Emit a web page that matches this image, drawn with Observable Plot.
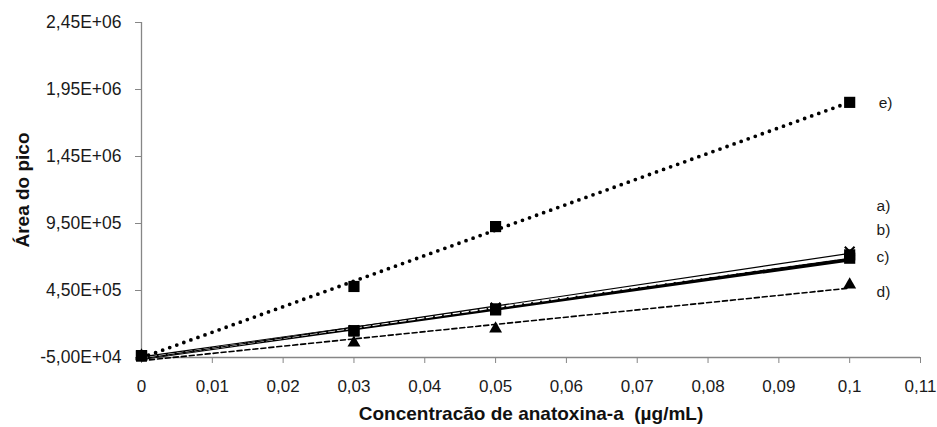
<!DOCTYPE html>
<html>
<head>
<meta charset="utf-8">
<script src="https://cdn.jsdelivr.net/npm/d3@7"></script>
<script src="https://cdn.jsdelivr.net/npm/@observablehq/plot@0.6"></script>
<style>
  html, body { margin: 0; padding: 0; background: #fff; }
  #chart { width: 937px; height: 427px; }
</style>
</head>
<body>
<div id="chart"></div>
<script>
// Concentration levels (µg/mL)
const conc = [0, 0.03, 0.05, 0.1];

// Peak areas per calibration series
const serieA = [-37000, 152000, 322000, 740000];
const serieB = [-37000, 150000, 313000, 716000];
const serieC = [-37000, 148000, 305000, 691000];
const serieD = [-37000, 60000, 164000, 493000];
const serieE = [-37000, 480000, 927000, 1854000];

// Series labels and their annotation anchors (data units)
const seriesNames = ["a)", "b)", "c)", "d)", "e)"];
const labelX = [0.1038, 0.1038, 0.1038, 0.1038, 0.1041];
const labelY = [1083000, 904000, 700000, 441000, 1852000];

// Axis ticks
const xTicks = [0, 0.01, 0.02, 0.03, 0.04, 0.05, 0.06, 0.07, 0.08, 0.09, 0.1, 0.11];
const yTicks = [-50000, 450000, 950000, 1450000, 1950000, 2450000];

const xTitle = "Concentracão de anatoxina-a  (µg/mL)";
const yTitle = "Área do pico";

const rows = (name, vals) => conc.map((c, i) => ({serie: name, x: c, y: vals[i]}));
const dataA = rows("a)", serieA);
const dataB = rows("b)", serieB);
const dataC = rows("c)", serieC);
const dataD = rows("d)", serieD);
const dataE = rows("e)", serieE);
const labels = seriesNames.map((s, i) => ({s, x: labelX[i], y: labelY[i]}));

// Spreadsheet-style scientific notation: 2,45E+06
const fmtE = v => {
  const [m, e] = d3.format(".2e")(Math.abs(v)).split("e");
  const exp = e.replace(/^[+-]/, "").padStart(2, "0");
  return (v < 0 ? "-" : "") + m.replace(".", ",") + "E" + (e[0] === "-" ? "-" : "+") + exp;
};
const fmtX = v => String(+v.toFixed(2)).replace(".", ",");

const axisGray = "#868686";
const font = "'Liberation Sans', Arial, sans-serif";

const fit = (data, opts) => Plot.linearRegressionY(data, {x: "x", y: "y", ci: 0, stroke: "#000", ...opts});

const chart = Plot.plot({
  width: 937,
  height: 427,
  marginLeft: 141,
  marginRight: 17,
  marginTop: 22,
  marginBottom: 70,
  style: {fontFamily: font, fontSize: "17px", color: "#1a1a1a", background: "#fff"},
  x: {domain: [0, 0.11]},
  y: {domain: [-50000, 2450000]},
  marks: [
    Plot.ruleY([-50000], {stroke: axisGray, strokeWidth: 1.3}),
    Plot.ruleX([0], {stroke: axisGray, strokeWidth: 1.3}),
    Plot.axisX({ticks: xTicks, tickFormat: fmtX, tickSize: 6, tickPadding: 16, stroke: axisGray, label: null, fontSize: 17}),
    Plot.axisY({ticks: yTicks, tickFormat: fmtE, tickSize: 6, tickPadding: 14, stroke: axisGray, label: null, fontSize: 17.5}),
    // trend lines
    fit(dataD, {strokeWidth: 1.6, strokeDasharray: "5,3"}),
    fit(dataE, {strokeWidth: 3.8, strokeDasharray: "0,7.5", strokeLinecap: "round"}),
    fit(dataC, {strokeWidth: 3.8}),
    fit(dataB, {strokeWidth: 1.6, strokeDasharray: "6,3", stroke: "#fff"}),
    fit(dataA, {strokeWidth: 1.2}),
    // measured points
    Plot.dot(dataD, {x: "x", y: "y", symbol: "triangle", r: 4.8, fill: "#000"}),
    Plot.dot(dataE, {x: "x", y: "y", symbol: "square", r: 6.3, fill: "#000"}),
    Plot.dot(dataA, {x: "x", y: "y", symbol: "times", r: 4.5, stroke: "#000", strokeWidth: 2}),
    Plot.dot(dataB, {x: "x", y: "y", symbol: "square", r: 6.3, fill: "#000"}),
    Plot.dot(dataC, {x: "x", y: "y", symbol: "square", r: 6.3, fill: "#000"}),
    // series annotations
    Plot.text(labels, {x: "x", y: "y", text: "s", textAnchor: "start", fontSize: 15.5, fill: "#1a1a1a"}),
    // axis titles
    Plot.text([xTitle], {frameAnchor: "bottom", textAnchor: "middle", lineAnchor: "middle", dy: 56, fontWeight: "bold", fontSize: 19, fill: "#111"}),
    Plot.text([yTitle], {frameAnchor: "left", textAnchor: "middle", lineAnchor: "middle", dx: -118.5, rotate: -90, fontWeight: "bold", fontSize: 19, fill: "#111"})
  ]
});
document.getElementById("chart").append(chart);
</script>
</body>
</html>
